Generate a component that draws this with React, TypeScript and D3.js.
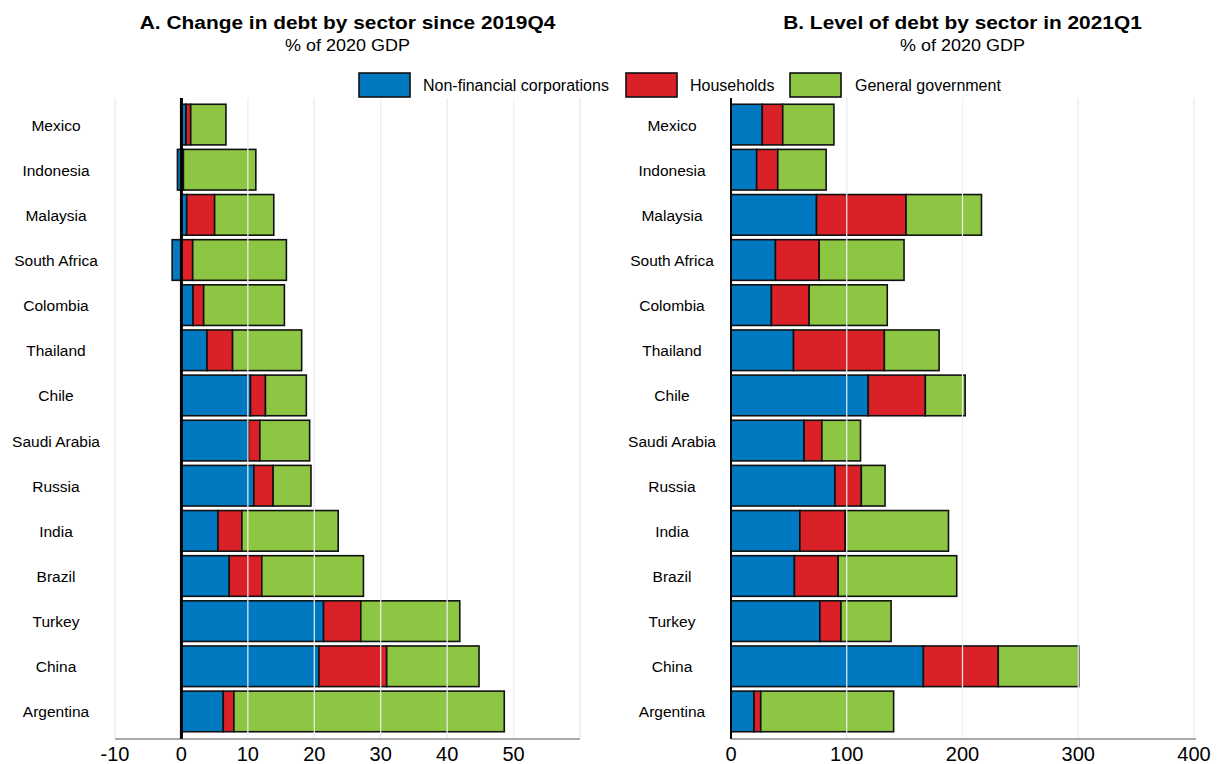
import React from "react";
import * as d3 from "d3";

const countries = ["Mexico","Indonesia","Malaysia","South Africa","Colombia","Thailand","Chile","Saudi Arabia","Russia","India","Brazil","Turkey","China","Argentina"];
const seriesNames = ["Non-financial corporations","Households","General government"];
const seriesColors = ["#0079c1","#da2128","#8dc643"];

// Panel A: change since 2019Q4 (% of 2020 GDP)
const changeNFC = [0.7,-0.6,0.8,-1.4,1.75,3.85,10.4,10.1,10.9,5.5,7.2,21.4,20.7,6.3];
const changeHH = [0.7,0.3,4.2,1.7,1.6,3.85,2.25,1.7,2.9,3.6,4.9,5.6,10.2,1.6];
const changeGG = [5.3,10.9,8.9,14.1,12.15,10.4,6.15,7.5,5.7,14.5,15.3,14.9,13.9,40.7];

// Panel B: level in 2021Q1 (% of 2020 GDP)
const levelNFC = [27,22.2,73.9,38.4,34.9,54,118.6,63.2,89.8,59.5,54.8,76.8,166.2,19.9];
const levelHH = [17.7,18.2,77.3,37.8,32.6,78.5,49.3,15.3,22.8,39.2,37.8,18.2,64.7,5.8];
const levelGG = [44.2,41.8,65.2,73.3,67.5,47.3,34.4,33.4,20.5,89.2,102.4,43.3,69.5,114.8];

const ticksA = [-10,0,10,20,30,40,50];
const ticksB = [0,100,200,300,400];
const gridA = [-10,10,20,30,40,50,60];
const gridB = [100,200,300,400];

const FONT = "Liberation Sans, Arial, sans-serif";

type Seg = { c: string; i: number; s: number; x0: number; x1: number };

function stackSegs(a: number[], b: number[], c: number[]): Seg[] {
  const out: Seg[] = [];
  countries.forEach((name, i) => {
    let pos = 0, neg = 0;
    [a[i], b[i], c[i]].forEach((v, s) => {
      if (v >= 0) { out.push({ c: name, i, s, x0: pos, x1: pos + v }); pos += v; }
      else { out.push({ c: name, i, s, x0: neg + v, x1: neg }); neg += v; }
    });
  });
  return out;
}

const y = d3.scaleBand<string>().domain(countries).range([102, 734]).paddingInner(0.1).paddingOuter(0.05);

function Panel({ x, segs, ticks, grid, labelX, title, zeroWidth, axisRight }: any) {
  const [r0, r1] = x.range();
  const cx = (r0 + r1) / 2;
  return (
    <g>
      <text transform={`translate(${cx},28.5) scale(1.13,1)`} textAnchor="middle" fontFamily={FONT} fontWeight="bold" fontSize={18.5} fill="#000">{title}</text>
      <text transform={`translate(${cx},51) scale(1.09,1)`} textAnchor="middle" fontFamily={FONT} fontSize={16.5} fill="#000">% of 2020 GDP</text>
      {grid.map((g: number) => (
        <line key={"gb" + g} x1={x(g)} x2={x(g)} y1={98} y2={738} stroke="#e6e8f1" strokeWidth={1} />
      ))}
      {segs.map((d: Seg, k: number) => (
        <rect key={k} x={x(d.x0)} width={Math.max(0, x(d.x1) - x(d.x0))} y={y(d.c)} height={y.bandwidth()}
          fill={seriesColors[d.s]} stroke="#111" strokeWidth={1.6} />
      ))}
      {grid.map((g: number) => (
        <line key={"gt" + g} x1={x(g)} x2={x(g)} y1={98} y2={738} stroke="#eef0f6" strokeWidth={1.2} />
      ))}
      <line x1={x(0)} x2={x(0)} y1={98} y2={739} stroke="#000" strokeWidth={zeroWidth} />
      <line x1={r0} x2={axisRight} y1={739} y2={739} stroke="#555" strokeWidth={1.2} />
      {ticks.map((t: number) => (
        <text key={"t" + t} x={x(t)} y={761} textAnchor="middle" fontFamily={FONT} fontSize={20} fill="#000">{t}</text>
      ))}
      {countries.map((c) => (
        <text key={c} x={labelX} y={(y(c) as number) + y.bandwidth() / 2 + 6} textAnchor="middle" fontFamily={FONT} fontSize={15.5} fill="#000">{c}</text>
      ))}
    </g>
  );
}

export default function App() {
  const xA = d3.scaleLinear().domain([-10, 60]).range([115, 580]);
  const xB = d3.scaleLinear().domain([0, 400]).range([731, 1194]);
  const segsA = stackSegs(changeNFC, changeHH, changeGG);
  const segsB = stackSegs(levelNFC, levelHH, levelGG);
  const legendItems = [
    { box: 359, text: 423 },
    { box: 626, text: 690 },
    { box: 790, text: 855 },
  ];
  return (
    <svg width={1219} height={764} style={{ display: "block", position: "absolute", left: 0, top: 0, background: "#fff" }}>
      <rect x={0} y={0} width={1219} height={764} fill="#fff" />
      <Panel x={xA} segs={segsA} ticks={ticksA} grid={gridA} labelX={56} title="A. Change in debt by sector since 2019Q4" zeroWidth={3} axisRight={580} />
      <Panel x={xB} segs={segsB} ticks={ticksB} grid={gridB} labelX={672} title="B. Level of debt by sector in 2021Q1" zeroWidth={2} axisRight={1196} />
      {seriesNames.map((n, i) => (
        <g key={n}>
          <rect x={legendItems[i].box} y={73} width={51} height={24} fill={seriesColors[i]} stroke="#111" strokeWidth={1.6} />
          <text x={legendItems[i].text} y={90.5} fontFamily={FONT} fontSize={16} fill="#000">{n}</text>
        </g>
      ))}
    </svg>
  );
}
